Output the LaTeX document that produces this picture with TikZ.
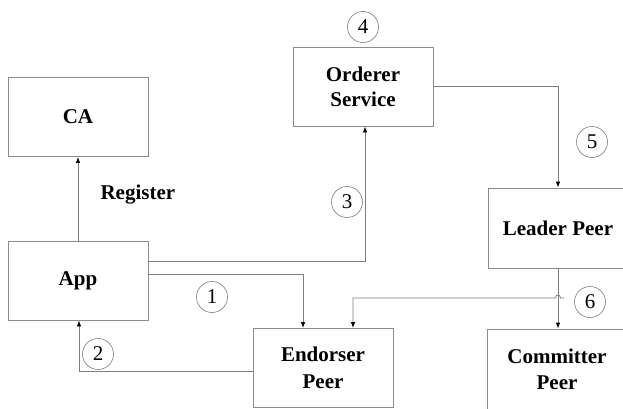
\documentclass[tikz,border=0pt]{standalone}
\usepackage{fontspec}
\setmainfont{Liberation Serif}
\usetikzlibrary{arrows.meta}
\definecolor{linegray}{RGB}{125,125,125}
\definecolor{boxgray}{RGB}{140,140,140}
\begin{document}
\begin{tikzpicture}[x=1pt,y=-1pt,
  box/.style={draw=boxgray,line width=0.8pt,minimum width=140pt,minimum height=79pt,inner sep=0pt,align=center,font=\fontsize{21}{25}\selectfont\bfseries},
  num/.style={draw=linegray,line width=0.6pt,circle,minimum size=31pt,inner sep=0pt,font=\fontsize{21}{24}\selectfont},
  conn/.style={draw=linegray,line width=0.8pt},
  arr/.style={conn,-{Latex[length=6pt,width=4.5pt,color=black]}},
  lbl/.style={font=\fontsize{21}{25}\selectfont\bfseries}]
\useasboundingbox (0,0) rectangle (623,409);
\clip (0,0) rectangle (623,409);
\node[box] (ca) at (78,117) {CA};
\node[box] (app) at (78,280.5) {App};
\node[box] (orderer) at (363,86.5) {Orderer\\Service};
\node[box,minimum height=80pt] (leader) at (558,228) {Leader Peer};
\node[box,font=\fontsize{21}{27}\selectfont\bfseries] (endorser) at (323,368) {Endorser\\Peer};
\node[box,minimum height=86pt] (committer) at (557,372) {};
\node[lbl,align=center,font=\fontsize{21}{26}\selectfont\bfseries] (committertext) at (557,369) {Committer\\Peer};
\node[num] (n4) at (363,27) {4};
\node[num] (n5) at (592,142) {5};
\node[num] (n3) at (347,202) {3};
\node[num] (n1) at (212,297) {1};
\node[num] (n2) at (98,354) {2};
\node[num] (n6) at (590,302) {6};
\node[lbl,anchor=west] (reg) at (97,195) {Register};
% connectors
\draw[arr] (app.north) -- (ca.south);
\draw[arr] ([yshift=19.5pt]app.east) -| ([xshift=2pt]orderer.south);
\draw[arr] ([yshift=6.5pt]app.east) -| ([xshift=-20pt]endorser.north);
\draw[arr] ([yshift=-3pt]endorser.west) -| ([xshift=1pt]app.south);
\draw[arr] (orderer.east) -| (leader.north);
\draw[arr] (leader.south) -- ([xshift=1pt]committer.north);
\coordinate (s6) at (564,298);
\coordinate (h1) at (560.5,298);
\coordinate (h2) at (555.5,298);
\draw[arr] (s6) -- (h1) .. controls (560.5,294) and (555.5,294) .. (h2) -| ([xshift=30pt]endorser.north);
\end{tikzpicture}
\end{document}
